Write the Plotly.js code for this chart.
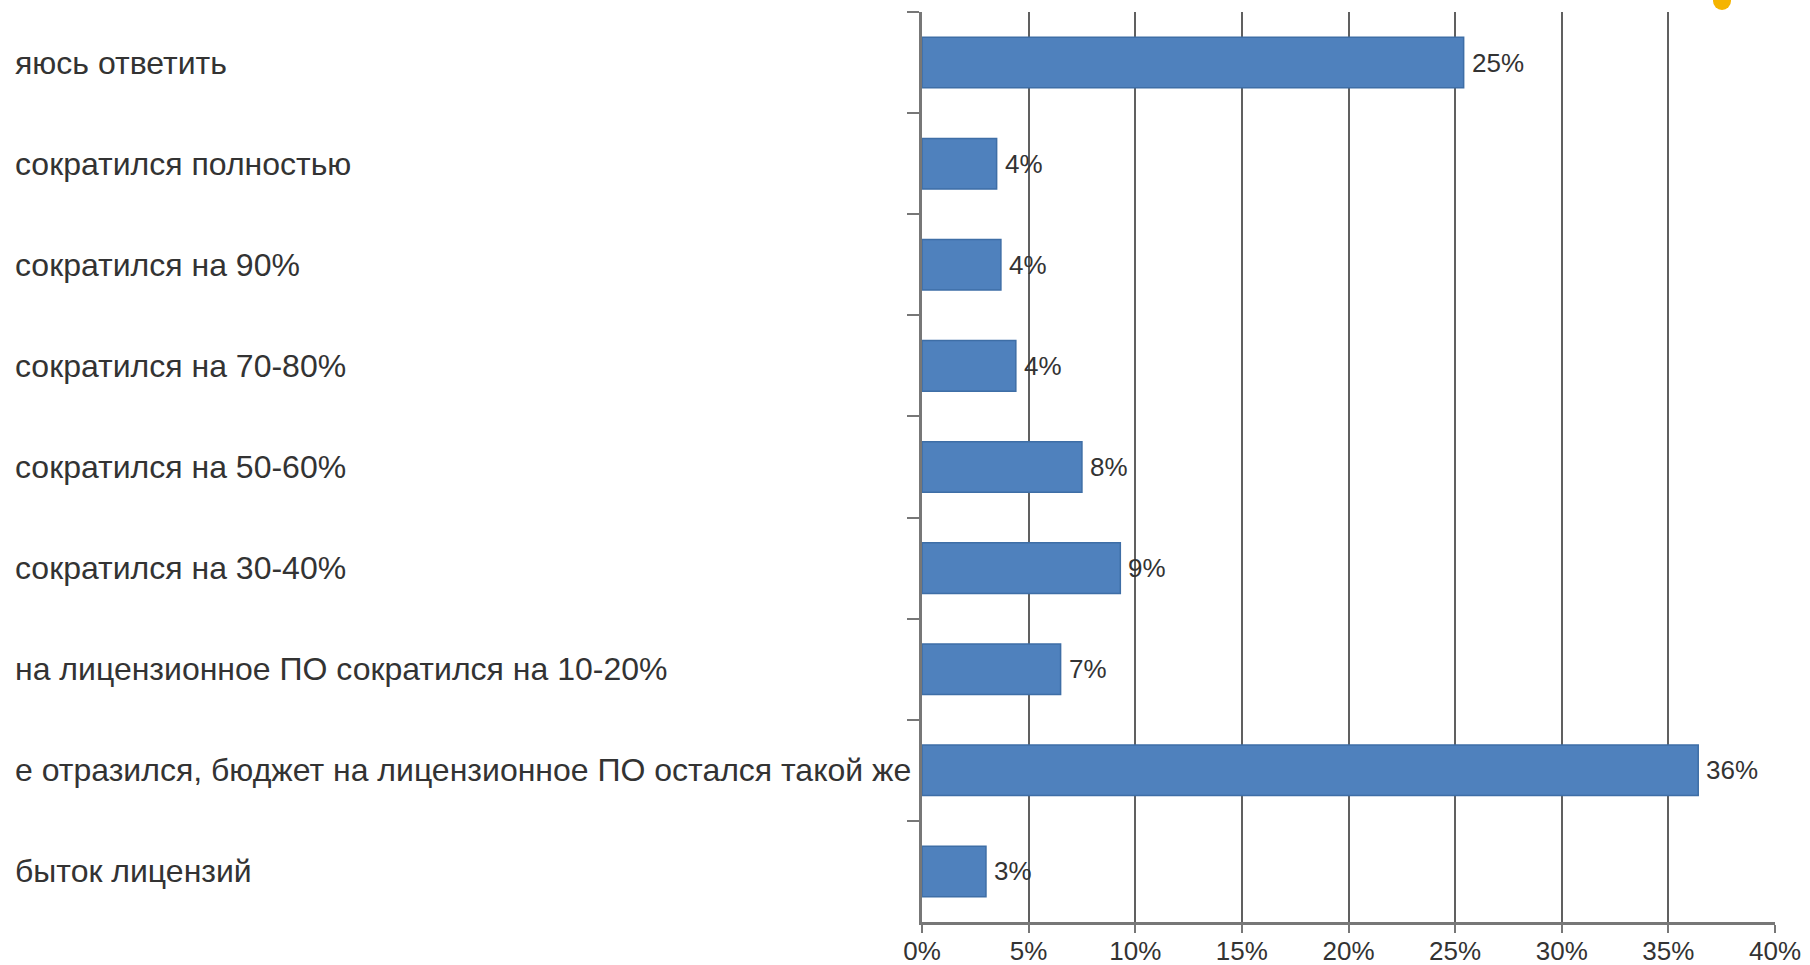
<!DOCTYPE html>
<html>
<head>
<meta charset="utf-8">
<script src="https://cdn.plot.ly/plotly-3.0.1.min.js"></script>
<style>
html, body { margin: 0; padding: 0; background: #ffffff; overflow: hidden; }
#chart { width: 1810px; height: 965px; }
</style>
</head>
<body>
<div id="chart"></div>
<script>
// Categories (visible, cropped label text as in the picture), top to bottom
const categories = [
  "яюсь ответить",
  "сократился полностью",
  "сократился на 90%",
  "сократился на 70-80%",
  "сократился на 50-60%",
  "сократился на 30-40%",
  "на лицензионное ПО сократился на 10-20%",
  "е отразился, бюджет на лицензионное ПО остался такой же",
  "быток лицензий"
];
// Bar lengths (percent)
const values = [25.4, 3.5, 3.7, 4.4, 7.5, 9.3, 6.5, 36.4, 3.0];
// Data labels as printed on the chart
const valueLabels = ["25%", "4%", "4%", "4%", "8%", "9%", "7%", "36%", "3%"];
// X axis ticks
const xTickVals = [0, 5, 10, 15, 20, 25, 30, 35, 40];
const xTickText = ["0%", "5%", "10%", "15%", "20%", "25%", "30%", "35%", "40%"];

const W = 1810, H = 965;
const M = { l: 922, r: 35, t: 12, b: 43 };
const plotW = W - M.l - M.r;
const labelLeftPx = 13;

const sans = "Liberation Sans, Arial, sans-serif";

const trace = {
  type: "bar",
  orientation: "h",
  y: categories,
  x: values,
  width: 0.5,
  marker: { color: "#4F81BD", line: { color: "#3E6EA6", width: 1.5 } },
  hoverinfo: "skip"
};

const catAnnotations = categories.map(c => ({
  xref: "paper", yref: "y",
  x: (labelLeftPx - M.l) / plotW,
  y: c,
  xanchor: "left", yanchor: "middle",
  text: c,
  showarrow: false,
  font: { family: sans, size: 32, color: "#333333" }
}));

const valueAnnotations = values.map((v, i) => ({
  xref: "x", yref: "y",
  x: v, y: categories[i],
  xanchor: "left", yanchor: "middle",
  xshift: 6,
  text: valueLabels[i],
  showarrow: false,
  font: { family: sans, size: 26, color: "#333333" }
}));

const layout = {
  width: W, height: H,
  margin: M,
  paper_bgcolor: "#ffffff",
  plot_bgcolor: "#ffffff",
  showlegend: false,
  bargap: 0.5,
  xaxis: {
    range: [0, 40],
    tickvals: xTickVals,
    ticktext: xTickText,
    showgrid: true,
    gridcolor: "#606060",
    gridwidth: 2,
    zeroline: false,
    showline: true,
    linecolor: "#777777",
    linewidth: 3,
    ticks: "outside",
    ticklen: 8,
    tickwidth: 2,
    tickcolor: "#777777",
    ticklabelstandoff: -4,
    tickfont: { family: sans, size: 26, color: "#333333" },
    fixedrange: true
  },
  yaxis: {
    type: "category",
    categoryorder: "array",
    categoryarray: categories,
    autorange: "reversed",
    showticklabels: false,
    showgrid: false,
    zeroline: false,
    showline: true,
    linecolor: "#777777",
    linewidth: 3,
    ticks: "outside",
    tickson: "boundaries",
    ticklen: 12,
    tickwidth: 2,
    tickcolor: "#777777",
    fixedrange: true
  },
  annotations: catAnnotations.concat(valueAnnotations),
  shapes: [
    {
      type: "circle", xref: "paper", yref: "paper",
      x0: (1713 - M.l) / plotW, x1: (1731 - M.l) / plotW,
      y0: 1 + (M.t - 10) / (H - M.t - M.b), y1: 1 + (M.t + 8) / (H - M.t - M.b),
      fillcolor: "#F5B400", line: { width: 0 }, layer: "above"
    }
  ]
};

Plotly.newPlot("chart", [trace], layout, { displayModeBar: false, staticPlot: true });
</script>
</body>
</html>
